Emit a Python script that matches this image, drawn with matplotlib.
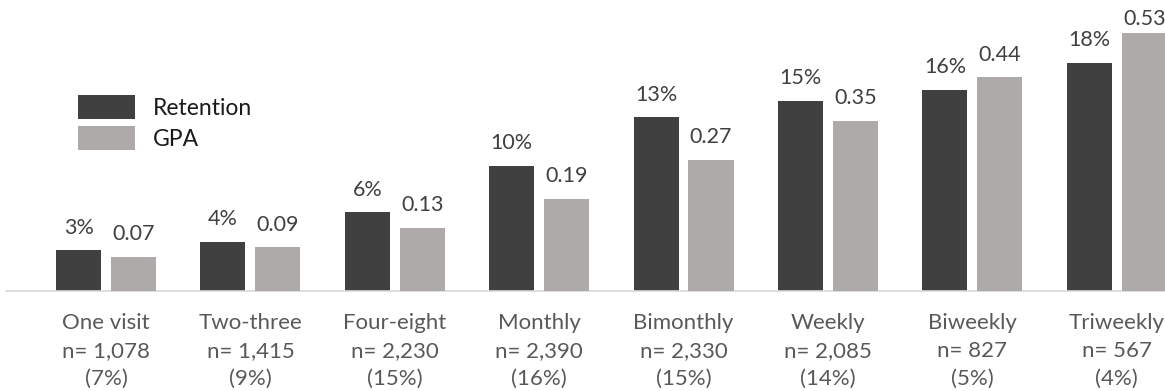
import matplotlib
matplotlib.use("Agg")
import matplotlib.pyplot as plt
import numpy as np

categories = ["One visit", "Two-three", "Four-eight", "Monthly", "Bimonthly", "Weekly", "Biweekly", "Triweekly"]
counts = ["1,078", "1,415", "2,230", "2,390", "2,330", "2,085", "827", "567"]
shares = ["7%", "9%", "15%", "16%", "15%", "14%", "5%", "4%"]
retention = [3.2, 3.9, 6.2, 9.9, 13.7, 15.0, 15.9, 18.0]
retention_labels = ["3%", "4%", "6%", "10%", "13%", "15%", "16%", "18%"]
gpa = [0.07, 0.09, 0.13, 0.19, 0.27, 0.35, 0.44, 0.53]
gpa_labels = ["0.07", "0.09", "0.13", "0.19", "0.27", "0.35", "0.44", "0.53"]

plt.rcParams['font.family'] = ['Lato', 'DejaVu Sans']

W, H = 1165, 391
fig = plt.figure(figsize=(W / 100, H / 100), dpi=100)
base_y = 291
top_y = 9
ax = fig.add_axes([6 / W, 1 - base_y / H, 1 - 6 / W, (base_y - top_y) / H])
ax2 = ax.twinx()

dark = "#404040"
light = "#AEAAAA"
x = np.arange(len(categories))
bw = 0.312
off = 0.19

b1 = ax.bar(x - off, retention, bw, color=dark, label="Retention")
b2 = ax2.bar(x + off, gpa, bw, color=light, label="GPA")

ax.set_xlim(-0.6925, 7.334)
ax.set_ylim(0, (base_y - top_y) / 12.67)
ax2.set_ylim(0, (base_y - top_y) / 4.86 * 0.01)

t1 = ax.bar_label(b1, labels=retention_labels, padding=9, fontsize=15.5, color="#404040")
t2 = ax2.bar_label(b2, labels=gpa_labels, padding=9, fontsize=15.5, color="#404040")

for a in (ax, ax2):
    for s in ("top", "right", "left"):
        a.spines[s].set_visible(False)
    a.set_yticks([])
ax2.spines["bottom"].set_visible(False)
ax.spines["bottom"].set_color("#D9D9D9")
ax.spines["bottom"].set_linewidth(1.2)

ax.set_xticks(x)
ax.set_xticklabels([f"{c}\nn= {n}\n({s})" for c, n, s in zip(categories, counts, shares)],
                   fontsize=16, color="#595959", linespacing=1.5)
ax.tick_params(axis="x", length=0, pad=16)

fig.legend(handles=[b1, b2], labels=["Retention", "GPA"], loc="upper left",
           bbox_to_anchor=(78 / W, 1 - 95 / H), frameon=False, fontsize=16.5,
           handlelength=2.5, handleheight=1.25, labelspacing=0.3, handletextpad=0.75,
           borderpad=0, borderaxespad=0, labelcolor="#1a1a1a")

# keep data labels inside the plot area, as the original chart does
fig.canvas.draw()
renderer = fig.canvas.get_renderer()
ax_top = ax.get_window_extent(renderer).y1
for t in list(t1) + list(t2):
    bb = t.get_window_extent(renderer)
    if bb.y1 > ax_top:
        dy = bb.y1 - ax_top
        xy = t.xyann
        t.xyann = (xy[0], xy[1] - dy * 72 / fig.dpi)

fig.savefig("out.png", dpi=100)
